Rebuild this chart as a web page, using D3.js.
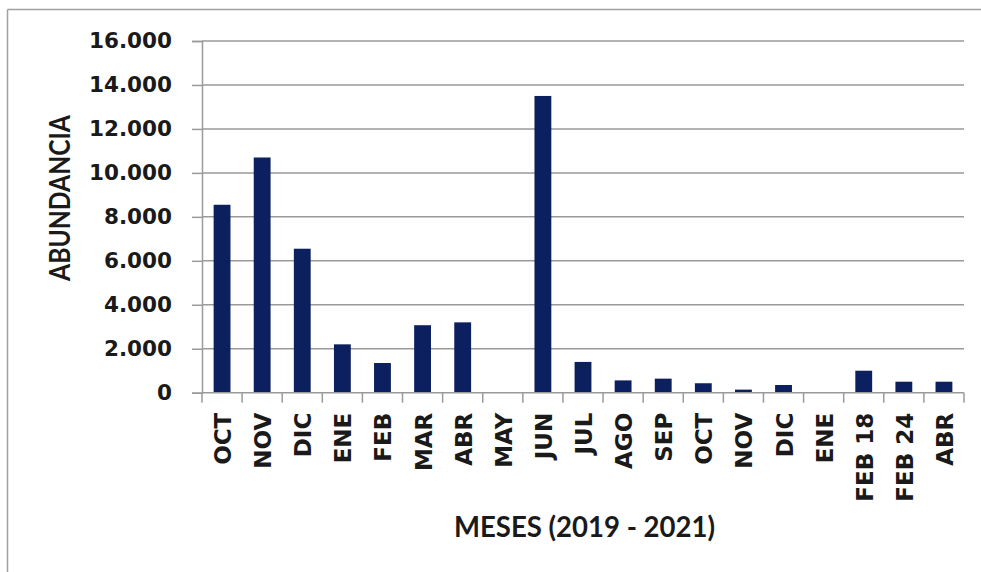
<!DOCTYPE html>
<html>
<head>
<meta charset="utf-8">
<script src="https://cdn.jsdelivr.net/npm/d3@7"></script>
<style>
html,body{margin:0;padding:0;background:#fff;}
svg{display:block;}
</style>
</head>
<body>
<svg id="chart" width="981" height="572"></svg>
<script>
const categories = ["OCT","NOV","DIC","ENE","FEB","MAR","ABR","MAY","JUN","JUL","AGO","SEP","OCT","NOV","DIC","ENE","FEB 18","FEB 24","ABR"];
const values = [8550,10700,6550,2200,1350,3070,3200,0,13500,1400,560,640,430,140,350,0,1000,500,500];
const yTicks = [0,2000,4000,6000,8000,10000,12000,14000,16000];
const yTitle = "ABUNDANCIA";
const xTitle = "MESES (2019 - 2021)";

(function(){
const svg = d3.select("#chart");
const mLeft = 202, mRight = 964, mTop = 41, mBottom = 392.7;

// frame
svg.append("line").attr("x1",7.5).attr("x2",7.5).attr("y1",9.5).attr("y2",572).attr("stroke","#a0a0a0").attr("stroke-width",1.5);
svg.append("line").attr("x1",7.5).attr("x2",981).attr("y1",9.5).attr("y2",9.5).attr("stroke","#a0a0a0").attr("stroke-width",1.5);

const idx = categories.map((d,i)=>i);
const x = d3.scaleBand().domain(idx).range([mLeft,mRight]).paddingInner(0.58).paddingOuter(0.29);
const xb = d3.scaleBand().domain(idx).range([mLeft,mRight]);
const y = d3.scaleLinear().domain([0,16000]).range([mBottom,mTop]);

// gridlines
svg.append("g").selectAll("line").data(yTicks.filter(d=>d>0)).join("line")
  .attr("x1",mLeft).attr("x2",mRight)
  .attr("y1",d=>y(d)).attr("y2",d=>y(d))
  .attr("stroke","#9a9a9a").attr("stroke-width",1.5);

// y axis
const yAxis = svg.append("g").attr("transform",`translate(${mLeft},0)`)
  .call(d3.axisLeft(y).tickValues(yTicks).tickSize(10).tickPadding(20)
        .tickFormat(d=>d3.format(",")(d).replace(/,/g,".")));
yAxis.select(".domain").attr("stroke","#9a9a9a").attr("stroke-width",1.5);
yAxis.selectAll(".tick line").attr("stroke","#9a9a9a").attr("stroke-width",1.5);
yAxis.selectAll("text").attr("font-family","DejaVu Sans").attr("font-weight","bold")
  .attr("font-size","21.5px").attr("fill","#1a1a1a");

// bars
svg.append("g").selectAll("rect").data(values).join("rect")
  .attr("x",(d,i)=>x(i)).attr("width",x.bandwidth())
  .attr("y",d=>y(d)).attr("height",d=>mBottom-y(d))
  .attr("fill","#0c1f5e");

// x axis
const xg = svg.append("g").attr("transform",`translate(0,${mBottom})`);
xg.append("line").attr("x1",mLeft).attr("x2",mRight).attr("y1",0).attr("y2",0)
  .attr("stroke","#9a9a9a").attr("stroke-width",1.5);
const bounds = idx.map(i=>xb(i)).concat([mRight]);
xg.selectAll("line.tk").data(bounds).join("line").attr("class","tk")
  .attr("x1",d=>d).attr("x2",d=>d).attr("y1",0).attr("y2",10)
  .attr("stroke","#9a9a9a").attr("stroke-width",1.5);
xg.selectAll("text").data(categories).join("text")
  .attr("transform",(d,i)=>`translate(${xb(i)+xb.bandwidth()/2+9},20) rotate(-90)`)
  .attr("text-anchor","end")
  .attr("font-family","DejaVu Sans").attr("font-weight","bold")
  .attr("font-size","23px").attr("fill","#1a1a1a")
  .text(d=>d);

// titles
svg.append("text").attr("x",584.5).attr("y",537)
  .attr("text-anchor","middle").attr("font-family","Lato").attr("font-weight","bold")
  .attr("font-size","28px").attr("fill","#1a1a1a")
  .attr("textLength",261).attr("lengthAdjust","spacingAndGlyphs")
  .text(xTitle);
svg.append("text").attr("transform","translate(70,198) rotate(-90)")
  .attr("text-anchor","middle").attr("font-family","Lato").attr("font-weight","bold")
  .attr("font-size","29px").attr("fill","#1a1a1a")
  .attr("textLength",166).attr("lengthAdjust","spacingAndGlyphs")
  .text(yTitle);
})();
</script>
</body>
</html>
